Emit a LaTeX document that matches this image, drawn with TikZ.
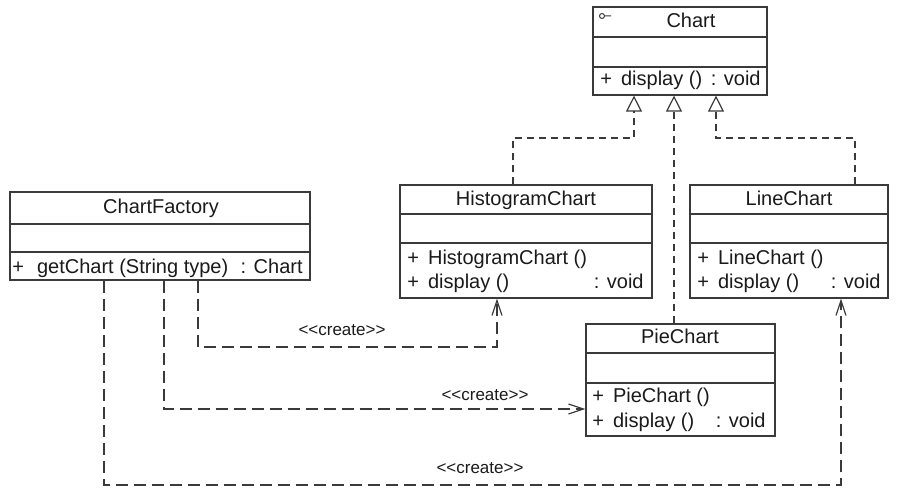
\documentclass[tikz,border=0pt]{standalone}
\usepackage{fontspec}
\setmainfont{Liberation Sans}
\usetikzlibrary{arrows.meta}

\definecolor{umlline}{HTML}{3A3A3A}
\definecolor{umltext}{HTML}{1A1A1A}

\newcommand{\stereotext}{\textless\kern0pt\textless create\textgreater\kern0pt\textgreater}

\tikzset{
  classbox/.style={draw=umlline,line width=0.6pt,inner sep=0pt,fill=white},
  sepline/.style={draw=umlline,line width=0.6pt},
  classname/.style={text=umltext,font=\fontsize{10pt}{12pt}\selectfont,inner sep=0pt,anchor=mid},
  member/.style={text=umltext,font=\fontsize{10pt}{12pt}\selectfont,inner sep=0pt,anchor=mid west},
  rettype/.style={text=umltext,font=\fontsize{10pt}{12pt}\selectfont,inner sep=0pt,anchor=mid east},
  stereo/.style={text=umltext,font=\fontsize{8.5pt}{10pt}\selectfont,inner sep=0pt,anchor=mid},
  create/.style={draw=umlline,line width=0.6pt,dash pattern=on 6pt off 3pt,
    -{Straight Barb[length=7.5pt,width=5pt]}},
  realize/.style={draw=umlline,line width=0.6pt,dash pattern=on 3.5pt off 2.5pt,
    -{Triangle[open,length=8pt,width=8pt]}}
}

\begin{document}
\begin{tikzpicture}[x=0.5pt,y=-0.5pt]
    \useasboundingbox (0,0) rectangle (900,492);

    % classes
    \node[classbox,minimum width=87pt,minimum height=44pt]   (chart)   at (680,51)    {};
    \node[classbox,minimum width=150pt,minimum height=44pt]  (factory) at (160,236)   {};
    \node[classbox,minimum width=126pt,minimum height=56.5pt] (hist)   at (526,241.5) {};
    \node[classbox,minimum width=99pt,minimum height=56.5pt] (line)    at (789,241.5) {};
    \node[classbox,minimum width=94.5pt,minimum height=56pt] (pie)     at (680.5,380) {};

    % compartments
    \draw[sepline] (chart.west |- 0,37)    -- (chart.east |- 0,37);
    \draw[sepline] (chart.west |- 0,67)    -- (chart.east |- 0,67);
    \draw[sepline] (factory.west |- 0,224) -- (factory.east |- 0,224);
    \draw[sepline] (factory.west |- 0,252) -- (factory.east |- 0,252);
    \draw[sepline] (hist.west |- 0,214)    -- (hist.east |- 0,214);
    \draw[sepline] (hist.west |- 0,243)    -- (hist.east |- 0,243);
    \draw[sepline] (line.west |- 0,214)    -- (line.east |- 0,214);
    \draw[sepline] (line.west |- 0,243)    -- (line.east |- 0,243);
    \draw[sepline] (pie.west |- 0,353)     -- (pie.east |- 0,353);
    \draw[sepline] (pie.west |- 0,383)     -- (pie.east |- 0,383);

    % interface mark
    \draw[umlline,line width=0.5pt] (602,16) circle (2.5) (604.5,16) -- (611,16);

    % names and operations
    \node[classname] (charttitle)   at (691,22)  {Chart};
    \node[member]    (chartop)      at (600,80)  {+\hspace{4.5pt}display ()};
    \node[rettype]   (charttype)    at (761,80)  {: void};

    \node[classname] (factorytitle) at (161,208) {ChartFactory};
    \node[member]    (factoryop)    at (12,268)  {+\hspace{6.5pt}getChart (String type)};
    \node[rettype]   (factorytype)  at (303,268) {: Chart};

    \node[classname] (histtitle)    at (526,200) {HistogramChart};
    \node[member]    (histctor)     at (407,259) {+\hspace{4.5pt}HistogramChart ()};
    \node[member]    (histop)       at (407,283) {+\hspace{4.5pt}display ()};
    \node[rettype]   (histtype)     at (644,283) {: void};

    \node[classname] (linetitle)    at (789,200) {LineChart};
    \node[member]    (linector)     at (697,259) {+\hspace{4.5pt}LineChart ()};
    \node[member]    (lineop)       at (697,283) {+\hspace{4.5pt}display ()};
    \node[rettype]   (linetype)     at (881,283) {: void};

    \node[classname] (pietitle)     at (680,338) {PieChart};
    \node[member]    (piector)      at (592,397) {+\hspace{4.5pt}PieChart ()};
    \node[member]    (pieop)        at (592,422) {+\hspace{4.5pt}display ()};
    \node[rettype]   (pietype)      at (766,422) {: void};

    % realization
    \draw[realize] (hist.north -| 513,0) |- (634,138) -- (chart.south -| 634,0);
    \draw[realize] (pie.north -| 674,0) -- (chart.south -| 674,0);
    \draw[realize] (line.north -| 855,0) |- (716,138) -- (chart.south -| 716,0);

    % create dependencies
    \draw[create] (factory.south -| 198,0) |- (497,347) -- (hist.south -| 497,0);
    \draw[create] (factory.south -| 164,0) |- (pie.west |- 0,409);
    \draw[create] (factory.south -| 104,0) |- (841,485) -- (line.south -| 841,0);

    \node[stereo] (createhist) at (342,330) {\stereotext};
    \node[stereo] (createpie)  at (485,395) {\stereotext};
    \node[stereo] (createline) at (480,468) {\stereotext};
\end{tikzpicture}
\end{document}
